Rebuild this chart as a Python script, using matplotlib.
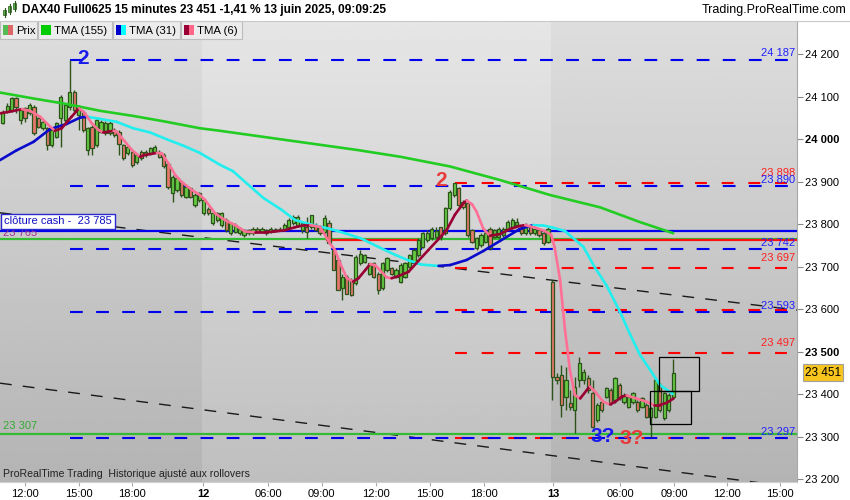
import numpy as np
import matplotlib
matplotlib.use("Agg")
import matplotlib.pyplot as plt
from matplotlib.collections import LineCollection
from matplotlib.patches import Rectangle
import matplotlib.transforms as mtransforms

plt.rcParams['font.family'] = ['Liberation Sans', 'DejaVu Sans']
plt.rcParams['lines.scale_dashes'] = False

# ---------------- data ----------------
start_slot = -5  # slot index of first candle (slot 0 = 12:00 on 11 June)
opens = [24039, 24067, 24070, 24096, 24045, 24073, 24061, 24077, 24049, 24026,
         24026, 23987, 24006, 24049, 24045, 24077, 24112, 24057, 24065, 23975,
         24030, 23987, 24018, 24014, 24014, 24022, 24018, 23987, 23967, 23971,
         23947, 23971, 23963, 23967, 23971, 23971, 23963, 23943, 23873, 23881,
         23900, 23865, 23885, 23845, 23857,
         23826, 23837, 23802, 23810, 23798, 23810, 23779, 23782, 23779, 23775,
         23786, 23779, 23790, 23782, 23779, 23782, 23788, 23789, 23790, 23794,
         23802, 23798, 23786, 23794, 23794, 23798, 23794, 23782, 23802, 23739,
         23716, 23649, 23677, 23669, 23661, 23708, 23712, 23684, 23708, 23684,
         23649, 23692, 23696, 23677, 23665, 23677, 23700, 23712, 23728, 23747,
         23763, 23767, 23771, 23794, 23779, 23838, 23869, 23885, 23853, 23849,
         23786, 23743, 23751, 23759, 23790, 23771, 23771, 23775, 23790, 23794,
         23798, 23790, 23779, 23794, 23779, 23786, 23779, 23759,
         23665, 23441, 23445, 23394, 23379, 23363, 23433, 23433, 23437, 23402,
         23339, 23382, 23394, 23410, 23386, 23422, 23382, 23371, 23382, 23382,
         23371, 23375, 23347, 23347, 23422, 23343, 23363, 23394]
highs = [24069, 24085, 24100, 24100, 24072, 24077, 24086, 24080, 24053, 24045,
         24030, 24026, 24041, 24104, 24085, 24187, 24116, 24081, 24069, 24030,
         24034, 24049, 24045, 24042, 24042, 24026, 24022, 23990, 23987, 23975,
         23967, 23975, 23975, 23983, 23987, 23975, 23967, 23947, 23916, 23912,
         23904, 23892, 23888, 23873, 23877,
         23860, 23841, 23830, 23830, 23830, 23814, 23806, 23802, 23794, 23790,
         23790, 23794, 23794, 23794, 23790, 23794, 23792, 23793, 23802, 23814,
         23822, 23822, 23806, 23818, 23822, 23802, 23798, 23822, 23810, 23743,
         23720, 23684, 23681, 23673, 23728, 23739, 23731, 23708, 23712, 23688,
         23712, 23724, 23700, 23696, 23708, 23712, 23731, 23743, 23767, 23782,
         23786, 23794, 23794, 23794, 23841, 23881, 23898, 23888, 23857, 23853,
         23790, 23771, 23779, 23783, 23794, 23790, 23794, 23794, 23810, 23814,
         23814, 23794, 23802, 23798, 23794, 23790, 23783, 23794,
         23669, 23449, 23469, 23465, 23410, 23441, 23488, 23460, 23445, 23433,
         23379, 23386, 23418, 23414, 23441, 23426, 23402, 23398, 23406, 23386,
         23394, 23379, 23371, 23441, 23426, 23406, 23402, 23484]
lows = [24035, 24061, 24065, 24061, 24037, 24041, 24057, 24010, 24026, 24022,
        23975, 23983, 24002, 23983, 24041, 24069, 24065, 24022, 24018, 23963,
        23963, 23983, 24014, 24010, 24010, 24006, 23963, 23951, 23963, 23935,
        23943, 23951, 23959, 23963, 23967, 23955, 23932, 23884, 23853, 23877,
        23865, 23861, 23861, 23841, 23853,
        23822, 23822, 23798, 23806, 23794, 23782, 23775, 23779, 23775, 23771,
        23775, 23775, 23779, 23779, 23775, 23779, 23784, 23784, 23786, 23790,
        23798, 23794, 23779, 23767, 23790, 23783, 23775, 23778, 23755, 23692,
        23645, 23622, 23637, 23630, 23657, 23704, 23708, 23680, 23673, 23637,
        23645, 23688, 23680, 23673, 23661, 23673, 23696, 23708, 23724, 23743,
        23759, 23763, 23767, 23763, 23775, 23834, 23865, 23841, 23837, 23771,
        23755, 23739, 23747, 23755, 23739, 23767, 23767, 23771, 23786, 23790,
        23794, 23775, 23775, 23775, 23775, 23771, 23751, 23755,
        23386, 23425, 23347, 23363, 23363, 23308, 23418, 23425, 23402, 23320,
        23335, 23359, 23390, 23375, 23379, 23386, 23378, 23367, 23378, 23359,
        23367, 23343, 23300, 23343, 23359, 23339, 23359, 23390]
closes = [24065, 24078, 24096, 24077, 24069, 24049, 24081, 24014, 24030, 24041,
          23987, 24022, 24038, 24100, 24081, 24112, 24069, 24073, 24022, 24026,
          23979, 24045, 24041, 24038, 24038, 24010, 23990, 23955, 23983, 23939,
          23963, 23955, 23971, 23979, 23983, 23959, 23936, 23888, 23912, 23908,
          23869, 23888, 23865, 23869, 23873,
          23857, 23826, 23826, 23826, 23826, 23786, 23802, 23798, 23790, 23786,
          23779, 23790, 23782, 23790, 23786, 23790, 23789, 23788, 23798, 23810,
          23818, 23818, 23802, 23782, 23822, 23786, 23779, 23814, 23755, 23692,
          23645, 23677, 23637, 23633, 23724, 23731, 23728, 23708, 23677, 23645,
          23708, 23720, 23684, 23692, 23704, 23708, 23728, 23739, 23763, 23779,
          23779, 23790, 23783, 23771, 23838, 23877, 23896, 23845, 23841, 23775,
          23759, 23767, 23775, 23779, 23743, 23786, 23790, 23790, 23806, 23810,
          23806, 23779, 23798, 23779, 23790, 23775, 23755, 23790,
          23440, 23433, 23375, 23433, 23371, 23418, 23473, 23453, 23410, 23324,
          23375, 23363, 23414, 23379, 23437, 23390, 23398, 23394, 23402, 23363,
          23390, 23347, 23367, 23433, 23363, 23402, 23398, 23451]

# Triangular moving averages (slot, value)
tma6_x = [-5.6, -3.4, -0.7, 1.1, 3.4, 5.6, 6.7, 8.2, 10.4, 12.1, 13.4, 14.9, 16.4,
          17.5, 19.8, 20.5, 22.4, 23.9, 25.7, 26.8, 29.5, 30.6, 32.1, 33.6, 35.0,
          37.3, 39.1, 40.3, 42.5, 44.7, 47.0, 49.2, 51.5, 53.7, 55.9, 58.2, 60.4,
          62.6, 63.8, 66.0, 68.2, 69.3, 70.5, 72.0, 73.4, 74.6, 76.1, 77.2, 78.3,
          79.4, 80.9, 82.0, 83.5, 85.8, 88.0, 90.2, 92.5, 94.3, 96.2, 98.1, 98.8,
          100.0, 101.0, 102.5, 104.0, 106.3, 108.5, 110.7, 111.9, 114.1, 116.3,
          117.7, 118.5, 119.7, 120.8, 121.9, 123.0, 124.2, 125.7, 126.4, 127.5,
          129.4, 130.9, 132.0, 133.5, 134.6, 136.8, 139.1, 140.6, 142.1, 143.6, 145.1]
tma6_y = [24061, 24065, 24071, 24067, 24053, 24030, 24020, 24026, 24053, 24073,
          24061, 24038, 24022, 24016, 24020, 24018, 23994, 23975, 23959, 23963,
          23968, 23967, 23943, 23916, 23900, 23881, 23869, 23857, 23826, 23810,
          23798, 23783, 23781, 23781, 23783, 23786, 23793, 23798, 23798, 23794,
          23755, 23740, 23708, 23673, 23665, 23673, 23692, 23706, 23704, 23692,
          23675, 23673, 23678, 23688, 23714, 23739, 23765, 23786, 23823, 23850,
          23856, 23847, 23830, 23790, 23773, 23777, 23789, 23796, 23798, 23792,
          23784, 23775, 23745, 23669, 23551, 23457, 23398, 23390, 23410, 23418,
          23406, 23382, 23376, 23382, 23394, 23397, 23390, 23382, 23375, 23375,
          23380, 23390]
tma31_x = [-5.6, -1.9, 1.9, 5.6, 9.3, 12.3, 13.9, 16.8, 20.5, 24.2, 28.0, 31.7,
           35.4, 39.1, 43.6, 46.5, 53.3, 57.4, 60.4, 64.1, 67.9, 71.6, 75.3, 79.0,
           82.8, 85.8, 88.7, 92.5, 95.1, 98.8, 102.5, 106.3, 110.7, 113.7, 116.0,
           118.1, 120.8, 124.9, 127.5, 130.1, 133.1, 135.4, 137.6, 139.8, 142.1, 144.9]
tma31_y = [23951, 23974, 23994, 24024, 24036, 24051, 24053, 24048, 24041, 24026,
           24016, 24000, 23985, 23968, 23940, 23925, 23862, 23834, 23810, 23799,
           23790, 23779, 23766, 23747, 23728, 23715, 23705, 23702, 23704, 23716,
           23737, 23761, 23789, 23798, 23797, 23792, 23784, 23747, 23698, 23656,
           23594, 23540, 23492, 23458, 23421, 23401]
tma155_x = [-5.6, 1.9, 9.3, 16.8, 24.2, 31.7, 39.1, 43.6, 74.2, 83.9, 95.1, 106.3,
            117.4, 128.6, 137.6, 145.0]
tma155_y = [24110, 24096, 24083, 24067, 24055, 24041, 24026, 24020, 23975, 23959,
            23936, 23904, 23869, 23840, 23805, 23779]

blue_levels = [24187, 23890, 23742, 23593, 23297]
blue_labels = ["24 187", "23 890", "23 742", "23 593", "23 297"]
red_levels = [23898, 23697, 23598, 23497, 23297]
red_labels = ["23 898", "23 697", "", "23 497", ""]
cash_close = 23785
green_levels = [23765, 23307]
red_solid_level = 23763
trend_x = [-5.6, 172.7]
trend1_y = [23827, 23598]
trend2_y = [23426, 23180]
last_price = 23451

tick_pos = [0, 12.1, 23.9, 39.8, 54.4, 66.4, 78.5, 90.6, 102.7, 118.1, 133.1, 145.2, 157.0, 168.9]
tick_labels = ["12:00", "15:00", "18:00", "12", "06:00", "09:00", "12:00", "15:00",
               "18:00", "13", "06:00", "09:00", "12:00", "15:00"]
price_ticks = [23200, 23300, 23400, 23500, 23600, 23700, 23800, 23900, 24000, 24100, 24200]

# ---------------- layout ----------------
W, H = 850, 500
X0, X1 = -5.6, 172.7
YB, YT = 23193.4, 24278.4

fig = plt.figure(figsize=(8.5, 5), dpi=100, facecolor='white')
ax = fig.add_axes([0, (H - 482) / H, 797 / W, (482 - 21) / H])
ax.set_xlim(X0, X1)
ax.set_ylim(YB, YT)

# day backgrounds with vertical gradient
days = [(X0, 39.7, 0.868, 0.705), (39.7, 117.7, 0.900, 0.748), (117.7, X1, 0.868, 0.705)]
for xa, xb, ct, cb in days:
    grad = np.linspace(ct, cb, 256)[:, None]
    ax.imshow(grad, cmap='gray', vmin=0, vmax=1, extent=(xa, xb, YB, YT),
              aspect='auto', zorder=0, interpolation='bilinear')
ax.set_xlim(X0, X1)
ax.set_ylim(YB, YT)

# trend lines
for ty in (trend1_y, trend2_y):
    ax.plot(trend_x, ty, color='#1a1a1a', lw=1.0, dashes=(8.5, 8.0), zorder=1)

# horizontal levels
ax.axhline(green_levels[0], color='#33bb33', lw=1.6, zorder=1.5)
ax.axhline(green_levels[1], color='#33bb33', lw=1.6, zorder=1.5)
ax.plot([67.6, 88.0], [red_solid_level] * 2, color='#ff1010', lw=1.6, zorder=1.6)
ax.plot([116.5, X1], [red_solid_level] * 2, color='#ff1010', lw=1.6, zorder=1.6)
ax.axhline(cash_close, color='#0000ee', lw=1.6, zorder=1.7)
for lv in red_levels:
    ax.plot([96.2, X1], [lv, lv], color='#ff0000', lw=1.5, dashes=(8.6, 10.6), zorder=1.8)
for lv in blue_levels:
    ax.plot([10.0, X1], [lv, lv], color='#0000ee', lw=1.5, dashes=(9.2, 9.6), zorder=1.9)

# candles
slots = np.arange(len(opens)) + start_slot
o = np.array(opens); c = np.array(closes); hi = np.array(highs); lo = np.array(lows)
edge = '#2c531a'
ax.vlines(slots, lo, hi, color=edge, lw=1.0, zorder=3)
up = c >= o
body_bot = np.minimum(o, c)
body_h = np.maximum(np.abs(c - o), 2.0)
ax.bar(slots[up], body_h[up], bottom=body_bot[up], width=0.72, color='#66cc44',
       edgecolor=edge, linewidth=0.9, zorder=4)
ax.bar(slots[~up], body_h[~up], bottom=body_bot[~up], width=0.72, color='#e8776e',
       edgecolor=edge, linewidth=0.9, zorder=4)


def colored_line(xs, ys, c_up, c_dn, lw=1.9, z=5):
    xs = np.asarray(xs, float); ys = np.asarray(ys, float)
    segs = np.stack([np.column_stack([xs[:-1], ys[:-1]]),
                     np.column_stack([xs[1:], ys[1:]])], axis=1)
    cols = [c_up if ys[i + 1] >= ys[i] else c_dn for i in range(len(xs) - 1)]
    ax.add_collection(LineCollection(segs, colors=cols, linewidths=lw, zorder=z,
                                     capstyle='round', joinstyle='round'))


ax.plot(tma155_x, tma155_y, color='#22cc22', lw=1.9, zorder=5, solid_capstyle='round')
colored_line(tma31_x, tma31_y, '#0a0acc', '#22eeee')
colored_line(tma6_x, tma6_y, '#990033', '#ff7096')

# boxes near the last candles
ax.add_patch(Rectangle((141.9, 23408), 8.9, 80, fill=False, ec='black', lw=0.9, zorder=6))
ax.add_patch(Rectangle((139.8, 23329), 9.1, 79, fill=False, ec='black', lw=0.9, zorder=6))

# wave labels
ax.text(12.9, 24190, "2", color='#1a1aee', fontsize=15, fontweight='bold', ha='center', va='center', zorder=7)
ax.text(93.0, 23902, "2", color='#e83a3a', fontsize=15, fontweight='bold', ha='center', va='center', zorder=7)
ax.text(129.2, 23300, "3?", color='#1a1aee', fontsize=15, fontweight='bold', ha='center', va='center', zorder=7)
ax.text(135.8, 23295, "3?", color='#e83a3a', fontsize=15, fontweight='bold', ha='center', va='center', zorder=7)

# level labels on the right
for lv, lb in zip(red_levels, red_labels):
    if lb:
        ax.annotate(lb, (172.3, lv), xytext=(0, 3.5), textcoords='offset points', ha='right',
                    va='bottom', fontsize=8, color='#ff2020', zorder=7)
for lv, lb in zip(blue_levels, blue_labels):
    ax.annotate(lb, (172.3, lv), xytext=(0, 1), textcoords='offset points', ha='right',
                va='bottom', fontsize=8, color='#2020ff', zorder=7)

# left labels
ax.annotate("23 765", (X0, green_levels[0]), xytext=(2, 1), textcoords='offset points',
            ha='left', va='bottom', fontsize=8, color='#a0309a', zorder=7)
ax.annotate("clôture cash -  23 785", (X0, cash_close), xytext=(3, 3), textcoords='offset points',
            ha='left', va='bottom', fontsize=8, color='#1010c0', zorder=8,
            bbox=dict(boxstyle='square,pad=0.25', fc='white', ec='#2a2ad0', lw=1))
ax.annotate("23 307", (X0, green_levels[1]), xytext=(2, 2), textcoords='offset points',
            ha='left', va='bottom', fontsize=8, color='#33aa33', zorder=7)
ax.text(0.004, 0.006, "ProRealTime Trading  Historique ajusté aux rollovers",
        transform=ax.transAxes, fontsize=7.6, color='#222222', ha='left', va='bottom', zorder=7)

# axes styling
for sp in ('top', 'left'):
    ax.spines[sp].set_visible(False)
ax.spines['right'].set_color('#a8a8a8')
ax.spines['bottom'].set_color('#d0d0d0')
ax.yaxis.tick_right()
ax.set_yticks(price_ticks)
ax.set_yticklabels([f"{v // 1000} {v % 1000:03d}" for v in price_ticks])
for t, v in zip(ax.get_yticklabels(), price_ticks):
    if v in (24000, 23500):
        t.set_fontweight('bold')
        t.set_fontsize(9)
ax.tick_params(axis='y', length=4, width=0.8, colors='#888888', labelcolor='black',
               labelsize=8, pad=2)
ax.set_xticks(tick_pos)
ax.set_xticklabels(tick_labels)
for t, lb in zip(ax.get_xticklabels(), tick_labels):
    if lb in ("12", "13"):
        t.set_fontweight('bold')
        t.set_fontsize(9)
ax.tick_params(axis='x', length=3, width=0.8, colors='#aaaaaa', labelcolor='black',
               labelsize=8, pad=2)

# current price box
trans = mtransforms.blended_transform_factory(ax.transAxes, ax.transData)
ax.text(1.0 + 8 / 797, last_price, "23 451", transform=trans, fontsize=8.5, ha='left',
        va='center', color='black', zorder=9, clip_on=False,
        bbox=dict(boxstyle='square,pad=0.2', fc='#f7c51e', ec='#a0a0a0', lw=0.8))

# ---------------- header (pixel overlay) ----------------
ov = fig.add_axes([0, 0, 1, 1], zorder=10)
ov.set_xlim(0, W); ov.set_ylim(H, 0); ov.axis('off'); ov.patch.set_alpha(0)
ov.add_patch(Rectangle((0, 0), W, 20.5, fc='white', ec='none'))
ov.plot([0, W], [20.5, 20.5], color='#c8c8c8', lw=0.8)
# small candle icon
for i, (yt, yb, col) in enumerate([(10, 15, '#55bb44'), (6, 12, '#55bb44'), (3, 9, '#55bb44')]):
    xc = 5 + i * 5
    ov.plot([xc, xc], [yt - 2, yb + 2], color='#2c531a', lw=0.8)
    ov.add_patch(Rectangle((xc - 1.5, yt), 3, yb - yt, fc=col, ec='#2c531a', lw=0.5))
ov.text(22, 10.5, "DAX40 Full0625 15 minutes 23 451 -1,41 % 13 juin 2025, 09:09:25",
        fontsize=8.6, fontweight='bold', ha='left', va='center', color='black')
ov.text(846, 10.5, "Trading.ProRealTime.com", fontsize=9, ha='right', va='center', color='black')

boxes = [(0, 37, "Prix"), (38, 112, "TMA (155)"), (113, 180, "TMA (31)"), (181, 242, "TMA (6)")]
swatches = [('#55bb55', '#dd6666'), ('#00cc00', '#00cc00'), ('#0000cc', '#00ffff'), ('#990033', '#ff6688')]
for (xa, xb, lb), (c1, c2) in zip(boxes, swatches):
    ov.add_patch(Rectangle((xa, 21), xb - xa, 18, fc='#ececec', ec='#bdbdbd', lw=0.8))
    ov.add_patch(Rectangle((xa + 3, 25), 5, 10, fc=c1, ec='none'))
    ov.add_patch(Rectangle((xa + 8, 25), 5, 10, fc=c2, ec='none'))
    ov.text(xa + 16, 30.5, lb, fontsize=8.2, ha='left', va='center', color='black')

fig.savefig("out.png", dpi=100, facecolor='white')
